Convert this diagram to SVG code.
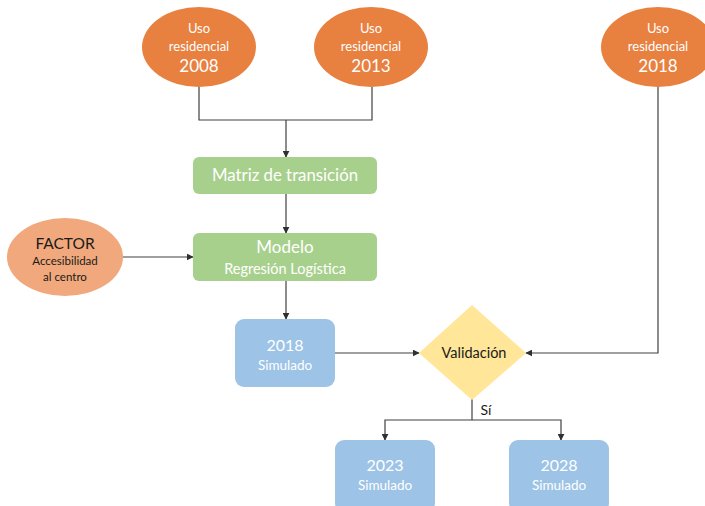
<svg xmlns="http://www.w3.org/2000/svg" width="705" height="506" viewBox="0 0 705 506">
  <style>
    .src { fill: #e8803f; }
    .factor { fill: #f0a87c; }
    .step { fill: #a8d08d; }
    .sim { fill: #9dc3e6; }
    .check { fill: #ffe699; }
    .wire { fill: none; stroke: #404040; stroke-width: 1.2; }
    text { font-family: Lato, "Open Sans", "Liberation Sans", sans-serif; text-anchor: middle; }
    .w { fill: #ffffff; }
    .k { fill: #1a1a1a; }
  </style>
  <defs>
    <marker id="arrow" viewBox="0 0 10 10" refX="9" refY="5" markerWidth="7" markerHeight="7" orient="auto" markerUnits="userSpaceOnUse">
      <path d="M0,0 L10,5 L0,10 z" fill="#303030"/>
    </marker>
  </defs>
  <rect width="705" height="506" fill="#ffffff"/>

  <g id="connectors">
    <path class="wire" d="M199,87 V120 H372 V87"/>
    <path class="wire" d="M286,120 V157" marker-end="url(#arrow)"/>
    <path class="wire" d="M286,194 V233" marker-end="url(#arrow)"/>
    <path class="wire" d="M123,257 H193" marker-end="url(#arrow)"/>
    <path class="wire" d="M286,281 V319" marker-end="url(#arrow)"/>
    <path class="wire" d="M335,353 H419" marker-end="url(#arrow)"/>
    <path class="wire" d="M658,87 V353 H526" marker-end="url(#arrow)"/>
    <path class="wire" d="M472,399 V420"/>
    <path class="wire" d="M472,420 H385 V440" marker-end="url(#arrow)"/>
    <path class="wire" d="M472,420 H561 V440" marker-end="url(#arrow)"/>
    <text x="486" y="415" class="k" font-size="14">Sí</text>
  </g>

  <g id="uso2008">
    <ellipse class="src" cx="199" cy="47" rx="57" ry="40"/>
    <text x="199" y="33" class="w" font-size="13">Uso</text>
    <text x="199" y="51" class="w" font-size="13">residencial</text>
    <text x="199" y="72" class="w" font-size="17">2008</text>
  </g>

  <g id="uso2013">
    <ellipse class="src" cx="371" cy="47" rx="57" ry="40"/>
    <text x="371" y="33" class="w" font-size="13">Uso</text>
    <text x="371" y="51" class="w" font-size="13">residencial</text>
    <text x="371" y="72" class="w" font-size="17">2013</text>
  </g>

  <g id="uso2018">
    <ellipse class="src" cx="658" cy="47" rx="57" ry="40"/>
    <text x="658" y="33" class="w" font-size="13">Uso</text>
    <text x="658" y="51" class="w" font-size="13">residencial</text>
    <text x="658" y="72" class="w" font-size="17">2018</text>
  </g>

  <g id="matriz">
    <rect class="step" x="193" y="157" width="184" height="37" rx="6"/>
    <text x="285" y="181" class="w" font-size="16.8">Matriz de transición</text>
  </g>

  <g id="factor">
    <ellipse class="factor" cx="65" cy="257" rx="58" ry="39"/>
    <text x="65" y="249" class="k" font-size="15.5">FACTOR</text>
    <text x="65" y="265" class="k" font-size="11.5">Accesibilidad</text>
    <text x="65" y="281" class="k" font-size="11.5">al centro</text>
  </g>

  <g id="modelo">
    <rect class="step" x="193" y="233" width="184" height="48" rx="6"/>
    <text x="285" y="253" class="w" font-size="17">Modelo</text>
    <text x="285" y="274" class="w" font-size="14.5">Regresión  Logística</text>
  </g>

  <g id="sim2018">
    <rect class="sim" x="235" y="319" width="100" height="68" rx="9"/>
    <text x="285" y="351" class="w" font-size="16">2018</text>
    <text x="285" y="370" class="w" font-size="13.5">Simulado</text>
  </g>

  <g id="validacion">
    <polygon class="check" points="472,305 526,353 472,400 419,353"/>
    <text x="474" y="358" class="k" font-size="14.5">Validación</text>
  </g>

  <g id="sim2023">
    <rect class="sim" x="335" y="440" width="100" height="72" rx="9"/>
    <text x="385" y="471" class="w" font-size="16">2023</text>
    <text x="385" y="490" class="w" font-size="13.5">Simulado</text>
  </g>

  <g id="sim2028">
    <rect class="sim" x="509" y="440" width="100" height="72" rx="9"/>
    <text x="559" y="471" class="w" font-size="16">2028</text>
    <text x="559" y="490" class="w" font-size="13.5">Simulado</text>
  </g>
</svg>
